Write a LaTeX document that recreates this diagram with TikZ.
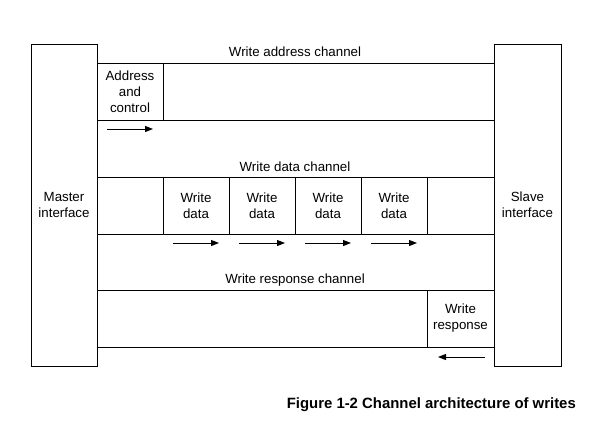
\documentclass[tikz,border=0pt]{standalone}
\usepackage{fontspec}
\setmainfont{Liberation Sans}
\usetikzlibrary{arrows.meta}
\begin{document}
\begin{tikzpicture}[x=1pt,y=-1pt,
  txt/.style={font=\fontsize{13.3}{16}\selectfont},
  box/.style={draw, line width=1pt, inner sep=0pt, align=center, txt},
  lbl/.style={inner sep=0pt, txt},
  flow/.style={line width=1pt, -{Triangle[length=8pt,width=6pt]}}]
\useasboundingbox (0,0) rectangle (600,429);

% interfaces on either side
\node[box, minimum width=66, minimum height=322] (master) at (64,205) {Master\\interface};
\node[box, minimum width=67, minimum height=322] (slave) at (527.5,205) {Slave\\interface};

% the three channels
\node[box, minimum width=397, minimum height=57] (addrch) at (295.5,91.5) {};
\node[box, minimum width=397, minimum height=57] (datach) at (295.5,205.5) {};
\node[box, minimum width=397, minimum height=57] (respch) at (295.5,318.5) {};

\node[lbl] (addrlbl) at (295,52) {Write address channel};
\node[lbl] (datalbl) at (295,167) {Write data channel};
\node[lbl] (resplbl) at (295,280) {Write response channel};

% transfers carried on each channel
\node[box, minimum width=66, minimum height=57] (addr) at (130,91.5) {Address\\and\\control};
\node[box, minimum width=66, minimum height=57] (d1) at (196,205.5) {Write\\data};
\node[box, minimum width=66, minimum height=57] (d2) at (262,205.5) {Write\\data};
\node[box, minimum width=66, minimum height=57] (d3) at (328,205.5) {Write\\data};
\node[box, minimum width=66, minimum height=57] (d4) at (394,205.5) {Write\\data};
\node[box, minimum width=67, minimum height=57] (resp) at (460.5,318.5) {Write\\response};

% direction of flow
\coordinate (a0) at (107,129); \coordinate (a1) at (153,129);
\coordinate (w0) at (173,243); \coordinate (w1) at (219,243);
\coordinate (x0) at (239,243); \coordinate (x1) at (285,243);
\coordinate (y0) at (305,243); \coordinate (y1) at (351,243);
\coordinate (z0) at (371,243); \coordinate (z1) at (417,243);
\coordinate (r0) at (485,357); \coordinate (r1) at (438,357);
\draw[flow] (a0) -- (a1);
\draw[flow] (w0) -- (w1);
\draw[flow] (x0) -- (x1);
\draw[flow] (y0) -- (y1);
\draw[flow] (z0) -- (z1);
\draw[flow] (r0) -- (r1);

\node[inner sep=0pt, anchor=east, font=\fontsize{14.9}{18}\selectfont\bfseries] (caption) at (576,405) {Figure 1-2 Channel architecture of writes};
\end{tikzpicture}
\end{document}
